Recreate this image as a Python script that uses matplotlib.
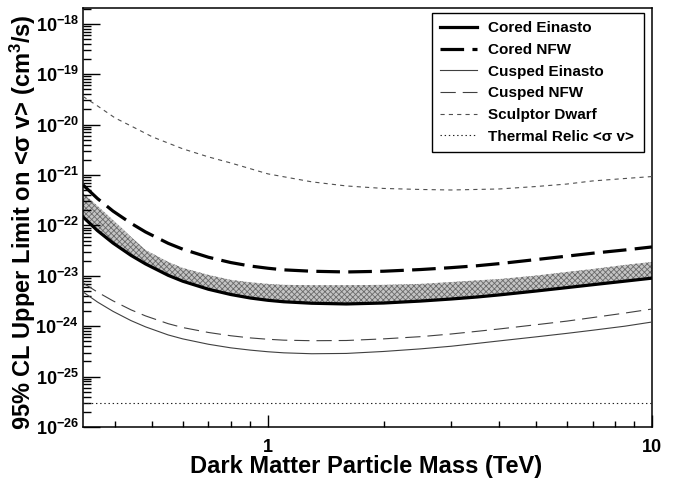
import numpy as np
import matplotlib
matplotlib.use('Agg')
import matplotlib.pyplot as plt
from matplotlib.ticker import LogLocator, NullFormatter

plt.rcParams['font.family'] = ['Liberation Sans', 'DejaVu Sans']
plt.rcParams['font.weight'] = 'bold'
plt.rcParams['axes.labelweight'] = 'bold'
plt.rcParams['mathtext.fontset'] = 'custom'
plt.rcParams['mathtext.rm'] = 'Liberation Sans:bold'
plt.rcParams['mathtext.it'] = 'Liberation Sans:bold'
plt.rcParams['mathtext.bf'] = 'Liberation Sans:bold'
plt.rcParams['lines.scale_dashes'] = False
plt.rcParams['hatch.linewidth'] = 0.6

# dark matter mass grid (TeV) for the halo limits
mass = [0.33, 0.36, 0.395, 0.44, 0.48, 0.55, 0.6, 0.7, 0.8, 0.9, 1.0, 1.1,
        1.3, 1.6, 2.0, 2.5, 3.0, 3.5, 4.0, 5.0, 6.0, 7.0, 8.5, 10.0]

# 95% CL upper limits on <sigma v> (cm^3/s)
cored_einasto = [1.47e-22, 7.85e-23, 4.46e-23, 2.54e-23, 1.72e-23, 1.02e-23, 7.8e-24,
                 5.4e-24, 4.25e-24, 3.62e-24, 3.26e-24, 3.05e-24, 2.85e-24, 2.76e-24,
                 2.88e-24, 3.15e-24, 3.46e-24, 3.79e-24, 4.17e-24, 4.99e-24, 5.82e-24,
                 6.64e-24, 7.82e-24, 8.97e-24]
cored_nfw = [6.34e-22, 3.4e-22, 1.92e-22, 1.1e-22, 7.4e-23, 4.4e-23, 3.37e-23,
             2.33e-23, 1.83e-23, 1.56e-23, 1.41e-23, 1.31e-23, 1.23e-23, 1.19e-23,
             1.23e-23, 1.33e-23, 1.45e-23, 1.58e-23, 1.74e-23, 2.1e-23, 2.45e-23,
             2.8e-23, 3.25e-23, 3.73e-23]
cusped_einasto = [4.78e-24, 3.01e-24, 1.97e-24, 1.29e-24, 9.7e-25, 6.7e-25, 5.6e-25,
                  4.38e-25, 3.72e-25, 3.35e-25, 3.11e-25, 2.96e-25, 2.84e-25, 2.88e-25,
                  3.15e-25, 3.55e-25, 4.0e-25, 4.55e-25, 5.1e-25, 6.15e-25, 7.2e-25,
                  8.3e-25, 1.0e-24, 1.21e-24]
cusped_nfw = [7.2e-24, 4.74e-24, 3.18e-24, 2.11e-24, 1.6e-24, 1.12e-24, 9.4e-25,
              7.5e-25, 6.46e-25, 5.85e-25, 5.5e-25, 5.28e-25, 5.15e-25, 5.2e-25,
              5.6e-25, 6.2e-25, 7.0e-25, 7.9e-25, 8.8e-25, 1.07e-24, 1.26e-24,
              1.48e-24, 1.82e-24, 2.19e-24]

# systematic band around the cored Einasto limit
band_low = [1.45e-22, 7.6e-23, 4.3e-23, 2.45e-23, 1.65e-23, 9.8e-24, 7.5e-24,
            5.2e-24, 4.1e-24, 3.5e-24, 3.15e-24, 2.95e-24, 2.75e-24, 2.66e-24,
            2.78e-24, 3.04e-24, 3.34e-24, 3.66e-24, 4.0e-24, 4.8e-24, 5.6e-24,
            6.4e-24, 7.55e-24, 8.65e-24]
band_high = [4.4e-22, 2.43e-22, 1.28e-22, 5.9e-23, 3.25e-23, 1.88e-23, 1.43e-23,
             1.04e-23, 8.3e-24, 7.4e-24, 6.9e-24, 6.6e-24, 6.5e-24, 6.5e-24,
             6.6e-24, 6.9e-24, 7.5e-24, 8.1e-24, 8.6e-24, 1.01e-23, 1.19e-23,
             1.36e-23, 1.64e-23, 1.88e-23]

# Sculptor dwarf limit
sculptor_mass = [0.33, 0.36, 0.4, 0.45, 0.5, 0.6, 0.7, 0.8, 1.0, 1.3, 1.6, 2.0,
                 2.5, 3.0, 4.0, 5.0, 6.0, 7.0, 8.5, 10.0]
sculptor = [3.61e-20, 2.34e-20, 1.35e-20, 8.6e-21, 5.7e-21, 3.3e-21, 2.28e-21,
            1.73e-21, 1.05e-21, 7.3e-22, 6.05e-22, 5.4e-22, 5.15e-22, 5.03e-22,
            5.27e-22, 5.9e-22, 6.6e-22, 7.6e-22, 8.5e-22, 9.3e-22]

thermal_relic = 3e-26

ytick_vals = [1e-26, 1e-25, 1e-24, 1e-23, 1e-22, 1e-21, 1e-20, 1e-19, 1e-18]
ytick_labels = [r'$10^{-26}$', r'$10^{-25}$', r'$10^{-24}$', r'$10^{-23}$',
                r'$10^{-22}$', r'$10^{-21}$', r'$10^{-20}$', r'$10^{-19}$',
                r'$10^{-18}$']
xtick_vals = [1, 10]
xtick_labels = ['1', '10']

fig = plt.figure(figsize=(6.78, 4.78), dpi=100)
ax = fig.add_axes([83 / 678, 1 - 427 / 478, 569 / 678, 419 / 478])
ax.set_xscale('log')
ax.set_yscale('log')

ax.fill_between(mass, band_low, band_high, facecolor='#c4c4c4',
                edgecolor='#6a6a6a', hatch='xxxxxx', linewidth=0, zorder=1)

ax.plot(mass, cored_einasto, color='black', lw=2.3, label='Cored Einasto', zorder=4)
ax.plot(mass, cored_nfw, color='black', lw=2.3, ls=(0, (17, 6)),
        label='Cored NFW', zorder=4)
ax.plot(mass, cusped_einasto, color='#404040', lw=0.8, label='Cusped Einasto', zorder=3)
ax.plot(mass, cusped_nfw, color='#404040', lw=0.8, ls=(0, (11, 5)),
        label='Cusped NFW', zorder=3)
ax.plot(sculptor_mass, sculptor, color='#505050', lw=0.8, ls=(0, (3, 3)),
        label='Sculptor Dwarf', zorder=3)
ax.axhline(thermal_relic, color='#202020', lw=0.8, ls=(0, (1, 2)),
           label='Thermal Relic <σ v>', zorder=3)

ax.set_xlim(0.33, 10)
ax.set_ylim(1e-26, 2.05e-18)

# ROOT-like ticks: inside, left and bottom only
ax.set_yticks(ytick_vals)
ax.set_yticklabels(ytick_labels)
ax.yaxis.set_minor_locator(LogLocator(base=10, subs=np.arange(2, 10), numticks=20))
ax.yaxis.set_minor_formatter(NullFormatter())
ax.set_xticks(xtick_vals)
ax.set_xticklabels(xtick_labels)
ax.xaxis.set_minor_locator(LogLocator(base=10, subs=np.arange(2, 10), numticks=20))
ax.xaxis.set_minor_formatter(NullFormatter())
ax.tick_params(axis='y', which='major', direction='in', length=12, width=1,
               labelsize=13, pad=3, right=False)
ax.tick_params(axis='y', which='minor', direction='in', length=6, width=1, right=False)
ax.tick_params(axis='x', which='major', direction='in', length=9, width=1,
               labelsize=13, pad=9, top=False)
ax.tick_params(axis='x', which='minor', direction='in', length=4, width=1, top=False)
for s in ax.spines.values():
    s.set_linewidth(1.1)

ax.set_xlabel('Dark Matter Particle Mass (TeV)', fontsize=17, fontweight='bold',
              va='center')
ax.xaxis.set_label_coords(0.497, (427 - 467) / 419)
ax.set_ylabel('95% CL Upper Limit on <σ v> (cm$^{3}$/s)', fontsize=17,
              fontweight='bold', va='center', ha='center')
ax.yaxis.set_label_coords((23 - 83) / 569, 0.49)

leg = ax.legend(loc='upper left', bbox_to_anchor=(0.613, 0.649, 0.373, 0.339),
                mode='expand', borderaxespad=0, fontsize=11, frameon=True,
                fancybox=False, edgecolor='black', framealpha=1,
                handlelength=2.4, handletextpad=0.7, labelspacing=0.5,
                borderpad=0.55)
leg.get_frame().set_linewidth(1.0)

fig.savefig('out.png', dpi=100)
